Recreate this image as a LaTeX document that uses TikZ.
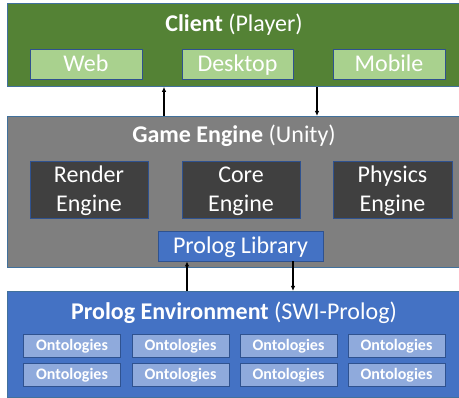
\documentclass[tikz,border=0pt]{standalone}
\usepackage{fontspec}
\setmainfont{Carlito}
\usetikzlibrary{arrows.meta}

\definecolor{clientgreen}{HTML}{548235}
\definecolor{lightgreen}{HTML}{A9D18E}
\definecolor{enginegray}{HTML}{7F7F7F}
\definecolor{enginedark}{HTML}{404040}
\definecolor{prologblue}{HTML}{4472C4}
\definecolor{ontoblue}{HTML}{8FAADC}
\definecolor{edgeblue}{HTML}{2F528F}
\definecolor{layeredge}{HTML}{41719C}

\tikzset{
  layer/.style={draw=layeredge, line width=0.8pt, anchor=north west, inner sep=0pt, minimum width=456pt},
  caption/.style={text=white, anchor=base, font=\fontsize{24}{29}\selectfont},
  part/.style={draw=edgeblue, line width=0.8pt, text=white, font=\fontsize{24}{29}\selectfont, align=center, inner sep=0pt, text height=19pt, text depth=3pt},
  twoline/.style={text height=48pt},
  onto/.style={draw=edgeblue, line width=0.8pt, fill=ontoblue, text=white, font=\fontsize{16}{18}\selectfont\bfseries, inner sep=0pt, text height=12pt, text depth=2pt, minimum width=97pt, minimum height=23pt},
  link/.style={line width=1.2pt, -{Latex[length=5pt,width=4.5pt]}},
}

\begin{document}
\begin{tikzpicture}[x=1pt,y=1pt,yscale=-1,xscale=1]
\useasboundingbox (0,0) rectangle (459,398);

% Client layer
\node (client) [layer, fill=clientgreen, minimum height=83pt] at (7,3) {};
\node (clienttitle) [caption] at (234,32) {\textbf{Client} (Player)};
\node (web) [part, fill=lightgreen, minimum width=112pt, minimum height=30pt] at (86,64) {Web};
\node (desktop) [part, fill=lightgreen, minimum width=111pt, minimum height=30pt] at (237.5,64) {Desktop};
\node (mobile) [part, fill=lightgreen, minimum width=112pt, minimum height=30pt] at (389,64) {Mobile};

% Game engine layer
\node (engine) [layer, fill=enginegray, minimum height=151pt] at (7,116) {};
\node (enginetitle) [caption] at (234,143) {\textbf{Game Engine} (Unity)};
\node (render) [part, twoline, fill=enginedark, minimum width=118pt, minimum height=57pt] at (89,189.5) {Render\\Engine};
\node (core) [part, twoline, fill=enginedark, minimum width=118pt, minimum height=57pt] at (241,189.5) {Core\\Engine};
\node (physics) [part, twoline, fill=enginedark, minimum width=119pt, minimum height=57pt] at (392.5,189.5) {Physics\\Engine};
\node (library) [part, fill=prologblue, minimum width=165pt, minimum height=30pt] at (240.5,246) {Prolog Library};

% Prolog environment layer
\node (prolog) [layer, fill=prologblue, minimum height=106pt] at (7,291) {};
\node (prologtitle) [caption] at (234,320) {\textbf{Prolog Environment} (SWI-Prolog)};
\node (onto1) [onto] at (72,345.5) {Ontologies};
\node (onto2) [onto] at (180.5,345.5) {Ontologies};
\node (onto3) [onto] at (288.5,345.5) {Ontologies};
\node (onto4) [onto] at (396.5,345.5) {Ontologies};
\node (onto5) [onto] at (72,375) {Ontologies};
\node (onto6) [onto] at (180.5,375) {Ontologies};
\node (onto7) [onto] at (288.5,375) {Ontologies};
\node (onto8) [onto] at (396.5,375) {Ontologies};

% Connections
\draw [link] (engine.north -| 164,0) -- (client.south -| 164,0);
\draw [link] (client.south -| 317,0) -- (engine.north -| 317,0);
\draw [link] (prolog.north -| 187,0) -- (library.south -| 187,0);
\draw [link] (library.south -| 293,0) -- (prolog.north -| 293,0);

\end{tikzpicture}
\end{document}
